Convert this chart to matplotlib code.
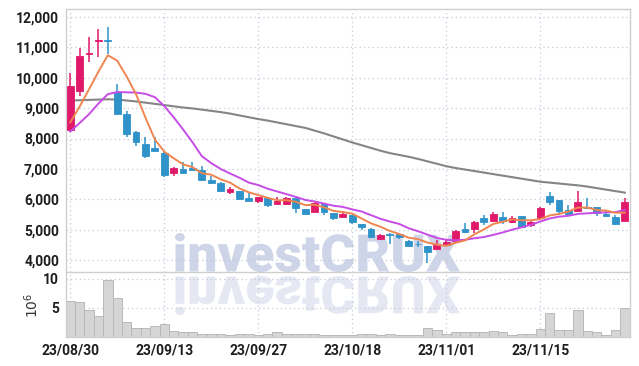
import matplotlib
matplotlib.use('Agg')
import matplotlib.pyplot as plt
from matplotlib.textpath import TextPath
from matplotlib.patches import PathPatch
from matplotlib.font_manager import FontProperties
from matplotlib.transforms import Affine2D
from matplotlib.ticker import FuncFormatter

plt.rcParams['font.family'] = ['Roboto', 'DejaVu Sans']

dates = ['23/08/30', '23/08/31', '23/09/01', '23/09/04', '23/09/05', '23/09/06', '23/09/07', '23/09/08', '23/09/11', '23/09/12',
         '23/09/13', '23/09/14', '23/09/15', '23/09/18', '23/09/19', '23/09/20', '23/09/21', '23/09/22', '23/09/25', '23/09/26',
         '23/09/27', '23/10/04', '23/10/05', '23/10/06', '23/10/10', '23/10/11', '23/10/12', '23/10/13', '23/10/16', '23/10/17',
         '23/10/18', '23/10/19', '23/10/20', '23/10/23', '23/10/24', '23/10/25', '23/10/26', '23/10/27', '23/10/30', '23/10/31',
         '23/11/01', '23/11/02', '23/11/03', '23/11/06', '23/11/07', '23/11/08', '23/11/09', '23/11/10', '23/11/13', '23/11/14',
         '23/11/15', '23/11/16', '23/11/17', '23/11/20', '23/11/21', '23/11/22', '23/11/23', '23/11/24', '23/11/27', '23/11/28']

opens = [8283, 9566, 10780, 11220, 11240, 9520, 8800, 8230, 7820, 7700,
         7530, 6870, 7000, 7030, 6970, 6640, 6550, 6240, 6280, 6050,
         5940, 6050, 5860, 5840, 6050, 5680, 5590, 5860, 5550, 5420,
         5480, 5190, 5020, 4710, 4870, 4870, 4630, 4540, 4470, 4370,
         4510, 4640, 5030, 5040, 5390, 5300, 5420, 5240, 5450, 5170,
         5370, 6110, 5980, 5650, 5610, 5760, 5740, 5520, 5420, 5300]
highs = [10150, 10970, 11350, 11590, 11660, 9790, 8920, 8250, 8040, 8050,
         7600, 7050, 7240, 7220, 7100, 6770, 6560, 6390, 6290, 6200,
         6090, 6080, 6070, 6090, 6060, 5690, 5910, 5880, 5550, 5610,
         5480, 5190, 5070, 4850, 4880, 4900, 4650, 4630, 4470, 4660,
         4710, 4980, 5210, 5300, 5490, 5580, 5580, 5440, 5450, 5290,
         5740, 6230, 5980, 5800, 6270, 6060, 5740, 5600, 5470, 6060]
lows = [8230, 9410, 10510, 10670, 10770, 8810, 8060, 7760, 7370, 7590,
        6750, 6780, 6850, 6970, 6590, 6510, 6270, 6180, 6000, 5950,
        5880, 5740, 5850, 5810, 5540, 5520, 5570, 5500, 5320, 5420,
        5180, 4990, 4760, 4700, 4530, 4700, 4470, 4420, 3910, 4360,
        4470, 4630, 4880, 4900, 5150, 5290, 5190, 5230, 5080, 5080,
        5360, 5810, 5490, 5510, 5600, 5690, 5450, 5450, 5170, 5290]
closes = [9730, 10720, 10810, 11250, 11200, 8820, 8140, 7870, 7440, 7600,
          6800, 7030, 6870, 6980, 6620, 6540, 6290, 6340, 6020, 5960,
          6080, 5830, 5950, 6040, 5710, 5530, 5870, 5570, 5400, 5530,
          5270, 5080, 4770, 4830, 4840, 4770, 4480, 4520, 4270, 4500,
          4600, 4960, 4940, 5270, 5270, 5520, 5280, 5380, 5100, 5260,
          5720, 5910, 5600, 5520, 5910, 5700, 5540, 5460, 5180, 5910]

ma5 = [8530, 9050, 9620, 10200, 10740, 10560, 10040, 9460, 8690, 7970,
       7570, 7350, 7150, 7060, 6860, 6810, 6660, 6550, 6360, 6230,
       6140, 6050, 5970, 5970, 5920, 5810, 5820, 5740, 5620, 5580,
       5530, 5370, 5210, 5100, 4960, 4860, 4740, 4690, 4580, 4510,
       4470, 4570, 4650, 4850, 5010, 5190, 5260, 5340, 5310, 5310,
       5350, 5470, 5520, 5600, 5730, 5730, 5650, 5630, 5560, 5560]
ma10 = [8230, 8510, 8800, 9150, 9460, 9530, 9520, 9510, 9470, 9360,
        9070, 8700, 8300, 7880, 7420, 7190, 7000, 6850, 6710, 6550,
        6470, 6350, 6260, 6170, 6080, 5980, 5930, 5860, 5790, 5750,
        5670, 5600, 5480, 5360, 5270, 5190, 5050, 4950, 4840, 4730,
        4670, 4650, 4670, 4720, 4760, 4830, 4910, 5000, 5080, 5160,
        5270, 5370, 5430, 5460, 5520, 5540, 5560, 5570, 5580, 5650]
ma_long = [9250, 9260, 9270, 9280, 9290, 9280, 9250, 9220, 9180, 9140,
           9100, 9060, 9020, 8990, 8950, 8910, 8870, 8820, 8760, 8700,
           8640, 8590, 8530, 8470, 8410, 8350, 8260, 8170, 8070, 7970,
           7870, 7780, 7690, 7600, 7520, 7460, 7400, 7330, 7250, 7170,
           7090, 7030, 6980, 6930, 6880, 6830, 6780, 6730, 6680, 6630,
           6580, 6550, 6520, 6490, 6460, 6420, 6370, 6320, 6270, 6220]

volume = [6.2, 6.0, 4.7, 3.6, 9.8, 6.8, 2.6, 1.5, 1.5, 1.9,
          2.3, 1.0, 0.8, 0.8, 0.6, 0.5, 0.5, 0.35, 0.5, 0.5,
          0.35, 0.5, 0.8, 0.5, 0.5, 0.5, 0.5, 0.35, 0.35, 0.3,
          0.3, 0.5, 0.5, 0.3, 0.5, 0.3, 0.3, 0.3, 1.6, 1.2,
          0.5, 0.8, 0.8, 0.8, 0.8, 1.0, 0.8, 0.3, 0.5, 0.5,
          1.3, 4.2, 1.2, 1.2, 4.7, 1.0, 0.8, 0.3, 1.2, 5.0]

tick_idx = [0, 10, 20, 30, 40, 50]

up_color = '#e0196a'
down_color = '#2f93c9'
grid_color = '#c5c9dc'
spine_color = '#cfcfcf'

W, H = 639, 366
fig = plt.figure(figsize=(W / 100, H / 100), dpi=100)
fig.patch.set_facecolor('white')

ax = fig.add_axes([66 / W, (H - 272) / H, (630 - 66) / W, (272 - 9) / H])
axv = fig.add_axes([66 / W, (H - 337) / H, (630 - 66) / W, (337 - 272) / H], sharex=ax)
for a in (ax, axv):
    a.set_facecolor('none')
    for s in a.spines.values():
        s.set_color(spine_color)
        s.set_linewidth(1.0)
    a.tick_params(length=0, labelsize=10, labelcolor='#1e1e1e', pad=5)
    a.set_axisbelow(True)
    a.grid(True, linestyle=(0, (1, 2.5)), color=grid_color, linewidth=0.9)
    for lbl in a.get_xticklabels() + a.get_yticklabels():
        lbl.set_fontweight('bold')

# watermark with reflection
fp = FontProperties(family=['Roboto', 'DejaVu Sans'], weight='black')
tp = TextPath((0, 0), 'investCRUX', size=50, prop=fp)
bb = tp.get_extents()
sx = (460 - 175) / bb.width
sy = (272 - 233) / bb.height
top = Affine2D().translate(-bb.x0, -bb.y0).scale(sx, sy).translate(175, H - 272)
bot = Affine2D().translate(-bb.x0, -bb.y0).scale(sx, -sy).translate(175, H - 276)
fig.add_artist(PathPatch(tp, transform=top, fc='#cfd5e8', ec='none', zorder=-1))
fig.add_artist(PathPatch(tp, transform=bot, fc='#e5e8f2', ec='none', zorder=-1))

x = list(range(len(closes)))
colors = [up_color if c >= o else down_color for o, c in zip(opens, closes)]
ax.vlines(x, lows, highs, colors=colors, linewidth=1.1, zorder=3)
bottoms = [min(o, c) for o, c in zip(opens, closes)]
heights = [abs(c - o) for o, c in zip(opens, closes)]
ax.bar(x, heights, bottom=bottoms, width=0.72, color=colors, edgecolor=colors, linewidth=0.6, zorder=4)

ax.plot(x, ma_long, color='#858585', linewidth=1.5, zorder=2)
ax.plot(x, ma10, color='#c64ce6', linewidth=1.4, zorder=5)
ax.plot(x, ma5, color='#ef8650', linewidth=1.4, zorder=6)

ax.set_xlim(-0.45, 59.55)
ax.set_ylim(3610, 12260)
ax.set_yticks([4000, 5000, 6000, 7000, 8000, 9000, 10000, 11000, 12000])
ax.yaxis.set_major_formatter(FuncFormatter(lambda v, p: f'{int(v):,}'))
ax.set_xticks(tick_idx)
ax.tick_params(axis='x', labelbottom=False)

axv.bar(x, volume, width=1.0, color='#d5d5d5', edgecolor='#b9b9b9', linewidth=0.7, zorder=2)
axv.set_ylim(0, 11.2)
axv.set_yticks([5, 10])
axv.set_xticks(tick_idx)
axv.set_xticklabels([dates[i] for i in tick_idx])
axv.spines['top'].set_visible(False)

for a in (ax, axv):
    for lbl in a.get_xticklabels() + a.get_yticklabels():
        lbl.set_fontweight('bold')

fig.text(32 / W, 1 - 305 / H, r'$10^6$', rotation=90, ha='center', va='center', fontsize=10, color='#333333')

fig.savefig('out.png', dpi=100)
